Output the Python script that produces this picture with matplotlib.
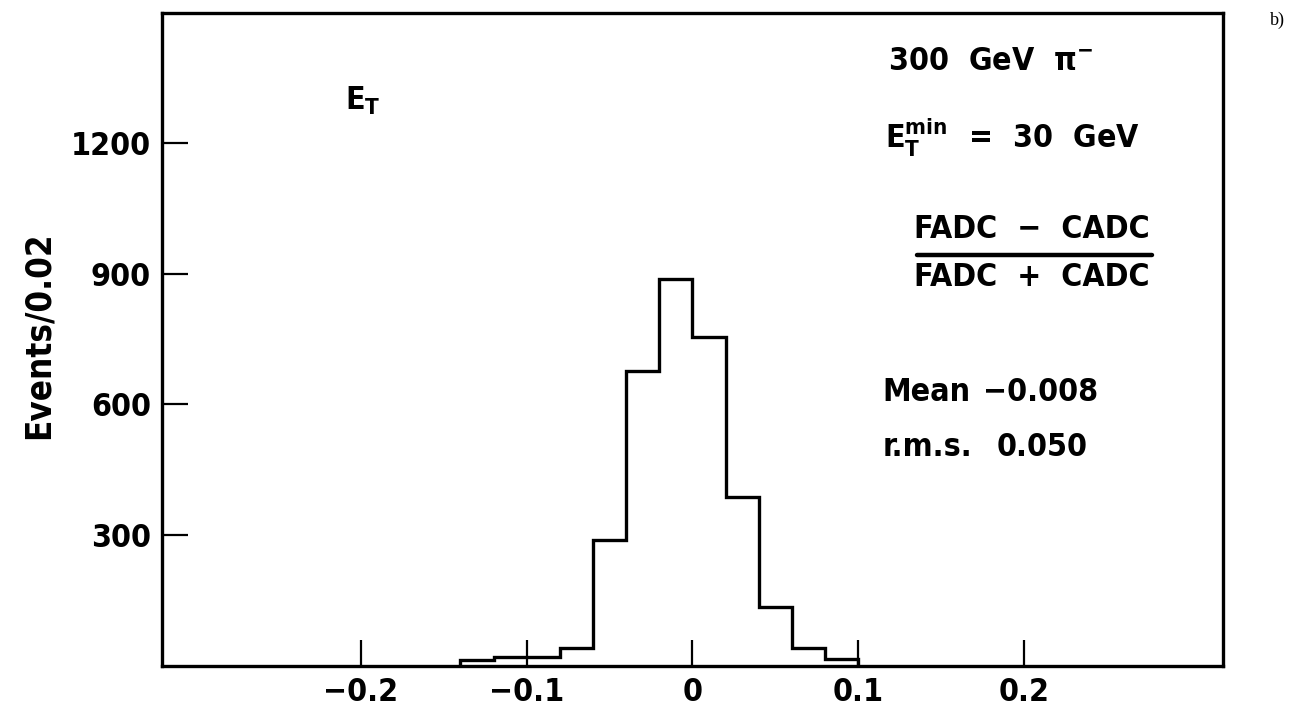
import matplotlib
matplotlib.use('Agg')
import matplotlib.pyplot as plt

plt.rcParams['font.family'] = ['DejaVu Sans']
plt.rcParams['font.weight'] = 'bold'
plt.rcParams['font.stretch'] = 'condensed'
plt.rcParams['mathtext.default'] = 'regular'

# histogram of (FADC - CADC) / (FADC + CADC), bins of 0.02
bin_edges = [-0.14, -0.12, -0.10, -0.08, -0.06, -0.04, -0.02,
             0.00, 0.02, 0.04, 0.06, 0.08, 0.10]
counts = [12, 20, 20, 40, 289, 678, 888, 756, 388, 135, 40, 15]

x_ticks = [-0.2, -0.1, 0, 0.1, 0.2]
x_tick_labels = ['\u22120.2', '\u22120.1', '0', '0.1', '0.2']
y_ticks = [300, 600, 900, 1200]

FS = 23
LW = 2.4

fig = plt.figure(figsize=(12.99, 7.13), dpi=100, facecolor='white')
ax = fig.add_axes([0.1247, 0.0666, 0.8168, 0.9152])

ax.stairs(counts, bin_edges, color='black', linewidth=LW, baseline=0)

ax.set_xlim(-0.32, 0.32)
ax.set_ylim(0, 1500)

ax.set_xticks(x_ticks)
ax.set_xticklabels(x_tick_labels)
ax.set_yticks(y_ticks)
ax.tick_params(axis='both', direction='in', length=19, width=1.6,
               labelsize=FS, colors='black')
ax.tick_params(axis='x', pad=8)
ax.tick_params(axis='y', pad=8)
ax.tick_params(top=False, right=False)
for sp in ax.spines.values():
    sp.set_linewidth(LW)

# labels inside the frame
tr = ax.transAxes
ax.text(0.1725, 0.866, r'$E_T$', transform=tr, fontsize=FS,
        ha='left', va='center')
ax.text(0.684, 0.925, r'300  GeV  $\pi^{-}$', transform=tr, fontsize=FS,
        ha='left', va='center')
ax.text(0.681, 0.808, r'$E_T^{min}$  =  30  GeV', transform=tr, fontsize=FS,
        ha='left', va='center')

ax.text(0.820, 0.668, 'FADC  \u2212  CADC', transform=tr, fontsize=FS,
        ha='center', va='center')
ax.plot([0.712, 0.933], [0.629, 0.629], transform=tr, color='black',
        linewidth=3.2, solid_capstyle='round', clip_on=False)
ax.text(0.820, 0.594, 'FADC  +  CADC', transform=tr, fontsize=FS,
        ha='center', va='center')

ax.text(0.679, 0.419, 'Mean', transform=tr, fontsize=FS, ha='left', va='center')
ax.text(0.774, 0.419, '\u22120.008', transform=tr, fontsize=FS, ha='left', va='center')
ax.text(0.679, 0.334, 'r.m.s.', transform=tr, fontsize=FS, ha='left', va='center')
ax.text(0.787, 0.334, '0.050', transform=tr, fontsize=FS, ha='left', va='center')

fig.text(0.030, 0.530, 'Events/0.02', rotation=90, fontsize=25,
         ha='center', va='center')
fig.text(0.978, 0.972, 'b)', fontsize=13, ha='left', va='center',
         family='Liberation Serif', weight='normal', stretch='normal')

fig.savefig('out.png', dpi=100, facecolor='white')
